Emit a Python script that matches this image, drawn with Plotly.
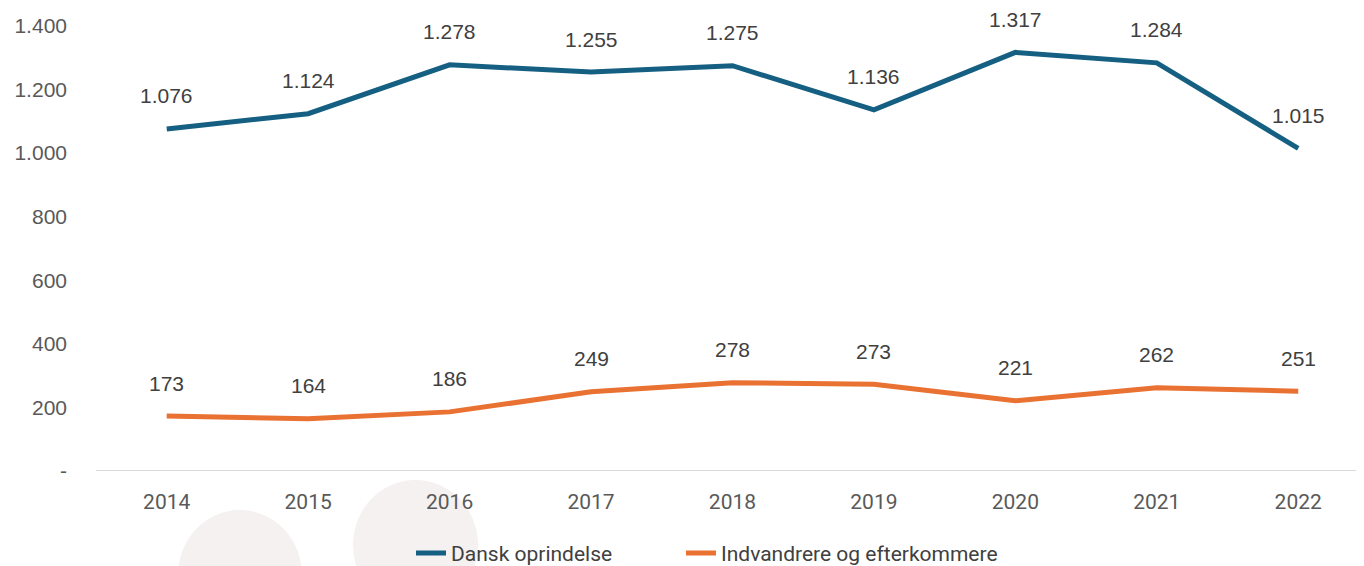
import plotly.graph_objects as go

years = ["2014", "2015", "2016", "2017", "2018", "2019", "2020", "2021", "2022"]
dansk = [1076, 1124, 1278, 1255, 1275, 1136, 1317, 1284, 1015]
indv = [173, 164, 186, 249, 278, 273, 221, 262, 251]
ytick_vals = [0, 200, 400, 600, 800, 1000, 1200, 1400]
ytick_text = ["-", "200", "400", "600", "800", "1.000", "1.200", "1.400"]

BLUE = "#156082"
ORANGE = "#E97132"
NARROW = "Roboto, sans-serif"
SANS = "Liberation Sans, Arial, sans-serif"

def fmt(v):
    return f"{v:,}".replace(",", ".")

fig = go.Figure()
fig.add_trace(go.Scatter(x=years, y=dansk, mode="lines", name="Dansk oprindelse",
                         line=dict(color=BLUE, width=5), legend="legend"))
fig.add_trace(go.Scatter(x=years, y=indv, mode="lines", name="Indvandrere og efterkommere",
                         line=dict(color=ORANGE, width=5), legend="legend2"))

for series in (dansk, indv):
    for i, v in enumerate(series):
        fig.add_annotation(x=i, y=v, text=fmt(v), showarrow=False, yshift=33,
                           font=dict(family=SANS, size=21, color="#404040"))

# faint decorative circles at the bottom (plot area: page x 96..1364, y 26..471)
fig.add_shape(type="circle", xref="paper", yref="paper", layer="below",
              x0=(178-96)/1268, x1=(302-96)/1268, y0=(471-640)/445, y1=(471-510)/445,
              fillcolor="#f4f1f0", line=dict(width=0))
fig.add_shape(type="circle", xref="paper", yref="paper", layer="below",
              x0=(353-96)/1268, x1=(478-96)/1268, y0=(471-610)/445, y1=(471-480)/445,
              fillcolor="#f4f1f0", line=dict(width=0))

legend_common = dict(orientation="h", xanchor="left", y=-0.139, yanchor="top",
                     font=dict(family=NARROW, size=21, color="#404040"),
                     bgcolor="rgba(0,0,0,0)")

fig.update_layout(
    width=1356, height=558,
    margin=dict(l=88, r=0, t=18, b=95, autoexpand=False),
    paper_bgcolor="white", plot_bgcolor="rgba(0,0,0,0)",
    showlegend=True,
    legend=dict(x=(411-96)/1268, **legend_common),
    legend2=dict(x=(681-96)/1268, **legend_common),
    xaxis=dict(type="category", range=[-0.5, 8.465], showgrid=False, zeroline=False,
               showline=False, ticks="", automargin=False, ticklabelstandoff=16,
               tickfont=dict(family=NARROW, size=21, color="#595959")),
    yaxis=dict(range=[0, 1400], tickvals=ytick_vals, ticktext=ytick_text,
               showgrid=False, zeroline=False, showline=False, ticks="",
               ticklabelstandoff=28, automargin=False,
               tickfont=dict(family=SANS, size=21, color="#595959")),
)
fig.add_shape(type="line", xref="paper", yref="y", x0=0, x1=1, y0=0, y1=0,
              line=dict(color="#d9d9d9", width=2), layer="below")

fig.write_html("out.html")
